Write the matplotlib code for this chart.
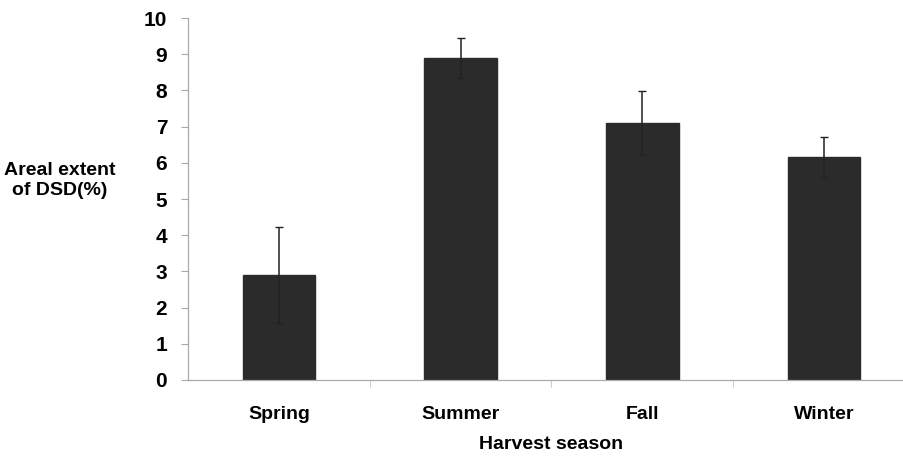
import numpy as np
import matplotlib.pyplot as plt

# Areal extent of DSD by harvest season (mean and error)
seasons = ['Spring', 'Summer', 'Fall', 'Winter']
extent = [2.9, 8.9, 7.1, 6.15]
extent_err = [1.33, 0.56, 0.88, 0.55]
yticks = list(range(0, 11))

plt.rcParams['font.family'] = ['Liberation Sans', 'DejaVu Sans']
plt.rcParams['font.weight'] = 'bold'

fig = plt.figure(figsize=(9.04, 4.57), dpi=100)
ax = fig.add_axes([0.208, 0.1685, 0.804, 0.792])

x = np.arange(len(seasons))
ax.bar(x, extent, width=0.4, color='#2b2b2b', edgecolor='#2b2b2b',
       yerr=extent_err, error_kw=dict(ecolor='#222222', elinewidth=1.1,
                                      capsize=3, capthick=1))

ax.set_xlim(-0.5, 3.5)
ax.set_ylim(0, 10)
ax.set_yticks(yticks)
ax.set_xticks(x)
ax.set_xticklabels(seasons, fontsize=14, fontweight='bold')
ax.tick_params(axis='x', length=0, pad=19)
ax.tick_params(axis='y', length=5, width=0.8, color='#aaaaaa', labelsize=15, pad=10)
for lbl in ax.get_yticklabels():
    lbl.set_fontweight('bold')

# minor ticks between categories
ax.set_xticks(np.arange(0.5, 3.5, 1), minor=True)
ax.tick_params(axis='x', which='minor', length=5, width=0.8, color='#cccccc')

for side in ['top', 'right']:
    ax.spines[side].set_visible(False)
for side in ['left', 'bottom']:
    ax.spines[side].set_color('#aaaaaa')
    ax.spines[side].set_linewidth(0.9)

ax.set_xlabel('Harvest season', fontsize=14, fontweight='bold', labelpad=9)
fig.text(0.066, 0.605, 'Areal extent\nof DSD(%)', ha='center', va='center',
         fontsize=14, fontweight='bold', linespacing=1.25)

fig.savefig('out.png', dpi=100)
